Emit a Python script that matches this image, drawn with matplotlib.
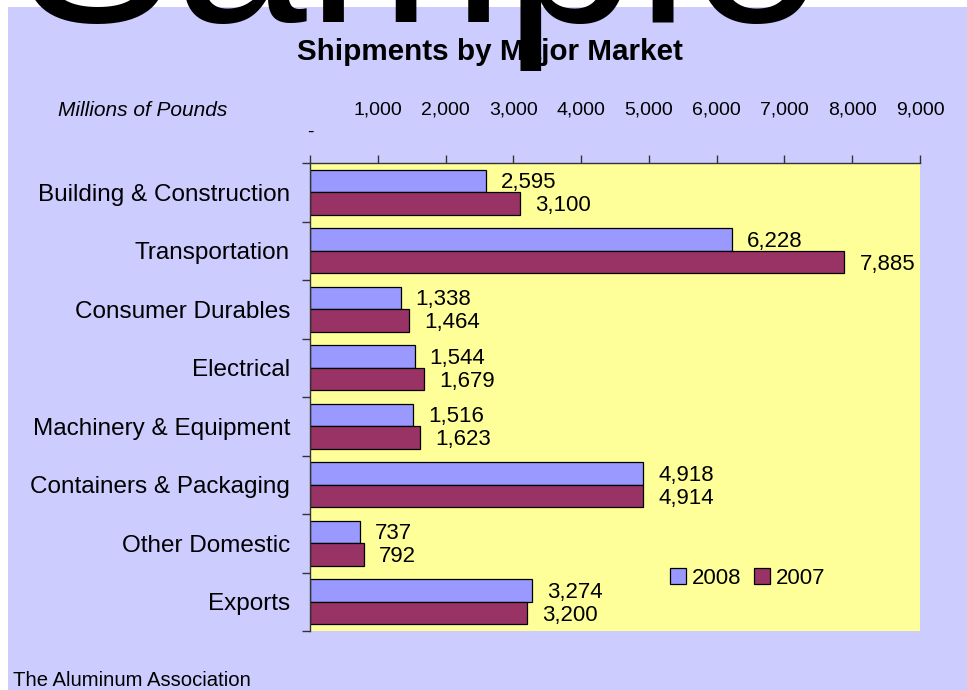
import matplotlib
matplotlib.use("Agg")
import matplotlib.pyplot as plt
from matplotlib.patches import Rectangle
import numpy as np

plt.rcParams['font.family'] = ['Liberation Sans', 'DejaVu Sans']

categories = ["Building & Construction", "Transportation", "Consumer Durables",
              "Electrical", "Machinery & Equipment", "Containers & Packaging",
              "Other Domestic", "Exports"]
v2008 = [2595, 6228, 1338, 1544, 1516, 4918, 737, 3274]
v2007 = [3100, 7885, 1464, 1679, 1623, 4914, 792, 3200]
xticks = [0, 1000, 2000, 3000, 4000, 5000, 6000, 7000, 8000, 9000]
xticklabels = ["", "1,000", "2,000", "3,000", "4,000", "5,000", "6,000", "7,000", "8,000", "9,000"]

W, H = 967, 690
fig = plt.figure(figsize=(W / 100, H / 100), dpi=100, facecolor='white')

# lavender chart area
fig.add_artist(Rectangle((8 / W, 0), 1 - 8 / W, 1 - 7 / H, transform=fig.transFigure,
                         facecolor='#CCCCFF', edgecolor='none', zorder=-10))

ax = fig.add_axes([310 / W, 1 - 631 / H, (920 - 310) / W, (631 - 163) / H])
ax.set_facecolor('#FFFF99')

y = np.arange(len(categories))
bh = 0.385
b1 = ax.barh(y - bh / 2, v2008, height=bh, color='#9999FF', edgecolor='black', linewidth=0.9, label='2008')
b2 = ax.barh(y + bh / 2, v2007, height=bh, color='#993366', edgecolor='black', linewidth=0.9, label='2007')

for rects, vals in ((b1, v2008), (b2, v2007)):
    for r, v in zip(rects, vals):
        ax.annotate(f"{v:,}", xy=(r.get_width(), r.get_y() + r.get_height() / 2),
                    xytext=(15, -2), textcoords='offset pixels', ha='left', va='center',
                    fontsize=16, color='black')

ax.set_xlim(0, 9000)
ax.set_ylim(len(categories) - 0.5, -0.5)

ax.xaxis.tick_top()
ax.set_xticks(xticks)
ax.set_xticklabels(xticklabels, fontsize=14)
ax.tick_params(axis='x', direction='out', length=5.8, width=1, color='#333333', pad=26.5)

ax.set_yticks(y)
ax.set_yticklabels(categories, fontsize=17.5)
ax.set_yticks(np.arange(-0.5, len(categories), 1), minor=True)
ax.tick_params(axis='y', which='major', length=0, pad=14.4)
ax.tick_params(axis='y', which='minor', direction='out', length=5.8, width=1, color='#333333')

for s in ('right', 'bottom'):
    ax.spines[s].set_visible(False)
for s in ('left', 'top'):
    ax.spines[s].set_color('#333333')
    ax.spines[s].set_linewidth(1)

# zero label shown as dash
ax.text(0, 1 + 31 / 468, "-", transform=ax.get_xaxis_transform(), ha='center', va='center', fontsize=14)

leg = ax.legend(handles=[b1, b2], labels=['2008', '2007'], ncol=2, frameon=False, fontsize=16,
                handlelength=0.72, handleheight=0.72, handletextpad=0.25, columnspacing=0.6,
                borderpad=0, borderaxespad=0, loc='center left',
                bbox_to_anchor=(670 / W, 1 - 578 / H), bbox_transform=fig.transFigure)

fig.text(490 / W, 1 - 60 / H, "Shipments by Major Market", ha='center', va='baseline',
         fontsize=21.3, fontweight='bold', color='black')
fig.text(58 / W, 1 - 110 / H, "Millions of Pounds", ha='left', va='center',
         fontsize=15, fontstyle='italic', color='black')
fig.text(13 / W, 1 - 686 / H, "The Aluminum Association", ha='left', va='baseline',
         fontsize=14.6, color='black')

# watermark
fig.text(419 / W, 1 - 22 / H, "Sample", ha='center', va='baseline', fontsize=171,
         color='black', zorder=100)

fig.savefig("out.png", dpi=100, facecolor='white')
